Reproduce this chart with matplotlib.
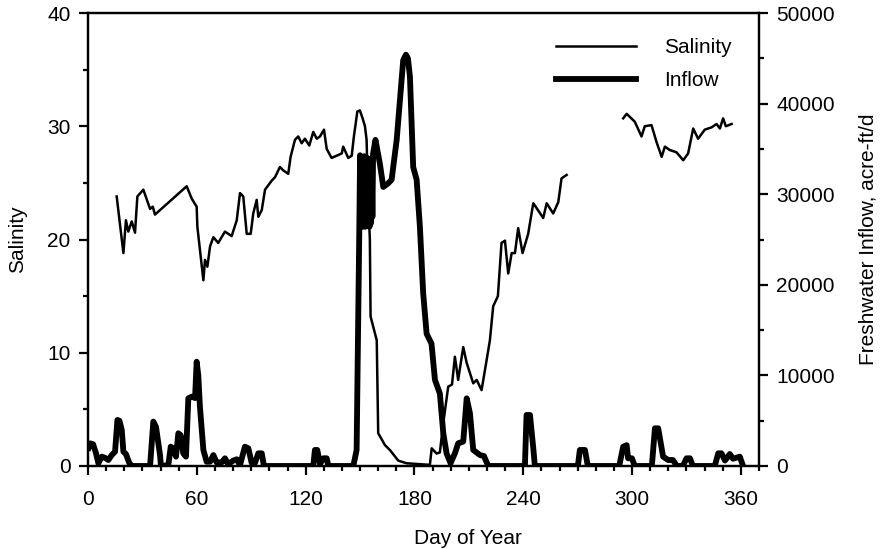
import numpy as np
import matplotlib
matplotlib.use("Agg")
import matplotlib.pyplot as plt
from matplotlib.ticker import MultipleLocator

plt.rcParams['font.family'] = ['Liberation Sans', 'DejaVu Sans']

# salinity readings (day of year, salinity); NaN marks the gap in the record
sal_day = [15.8, 19.5, 20.9, 22.2, 24.1, 25.9, 27.2, 30.5, 34.2, 35.7, 36.9,
           54.4, 57.2, 59.9, 60.3, 63.6, 64.5, 65.8, 67.3, 69.1, 71.8, 75.5,
           79.2, 82.0, 83.8, 85.6, 87.5, 89.7, 91.1, 93.0, 93.9, 95.8, 97.6,
           101.3, 103.1, 105.8, 107.7, 110.4, 111.7, 114.1, 115.9, 117.8,
           119.6, 122.0, 124.2, 126.1, 127.9, 130.1, 131.6, 134.3, 137.1,
           139.9, 140.7, 143.5, 145.4, 146.6, 148.5, 149.9, 151.4, 152.7,
           153.6, 154.4, 155.4, 155.8, 159.2, 160.0, 163.7, 166.5, 171.1,
           175.7, 188.5, 189.5, 192.2, 194.0, 195.9, 198.6, 200.7, 202.3,
           204.1, 206.9, 208.8, 212.4, 214.3, 217.0, 218.9, 221.6, 223.4,
           226.0, 228.0, 229.9, 231.7, 233.6, 235.4, 237.2, 239.6, 242.7,
           245.5, 246.4, 251.0, 252.9, 256.5, 259.3, 261.1, 263.9,
           280.0,
           295.1, 297.0, 301.5, 305.2, 307.0, 310.7, 313.5, 316.3, 318.1,
           320.8, 324.5, 328.2, 330.9, 333.7, 336.4, 340.1, 343.8, 346.6,
           348.4, 350.2, 351.7, 354.9]
salinity = [23.8, 18.8, 21.7, 20.7, 21.6, 20.6, 23.8, 24.4, 22.7, 22.9, 22.2,
            24.7, 23.6, 22.9, 21.1, 16.4, 18.2, 17.6, 19.4, 20.2, 19.7, 20.7,
            20.3, 21.7, 24.1, 23.8, 20.5, 20.5, 22.3, 23.5, 22.0, 22.6, 24.4,
            25.2, 25.5, 26.4, 26.1, 25.8, 27.3, 28.8, 29.1, 28.5,
            28.9, 28.3, 29.5, 28.9, 29.1, 29.7, 28.0, 27.2, 27.4,
            27.6, 28.2, 27.2, 27.4, 29.1, 31.3, 31.4, 30.7, 30.0,
            28.8, 24.0, 20.0, 13.2, 11.1, 2.9, 1.85, 1.4, 0.47,
            0.24, 0.1, 1.56, 1.1, 1.2, 3.8, 7.0, 7.2, 9.65,
            7.6, 10.5, 9.1, 7.3, 7.6, 6.7, 8.5, 11.1, 14.1,
            15.0, 19.7, 19.9, 17.0, 18.8, 18.8, 21.0, 18.8, 20.5,
            23.2, 23.0, 21.9, 23.2, 22.3, 23.3, 25.4, 25.7,
            np.nan,
            30.7, 31.1, 30.4, 29.1, 30.0, 30.1, 28.6, 27.3, 28.2,
            27.9, 27.7, 27.0, 27.6, 29.8, 28.9, 29.7, 29.9, 30.2,
            29.8, 30.7, 30.0, 30.2]

# freshwater inflow readings (day of year, acre-ft/d)
inflow_day = [0.3, 1.1, 2.8, 4.4, 5.7, 7.6, 9.4, 11.2, 13.1, 14.9, 16.2, 17.3,
              18.6, 19.5, 20.9, 22.8, 24.3, 34.2, 36.0, 37.5, 39.7, 40.2,
              44.3, 45.6, 47.0, 48.5, 49.8, 51.1, 52.5, 54.0, 55.3, 57.2,
              59.0, 59.9, 60.8, 61.7, 63.6, 65.4, 67.3, 69.1, 70.9, 73.7,
              75.5, 77.3, 80.1, 82.0, 83.8, 86.5, 88.4, 90.2, 92.1, 93.9,
              95.8, 97.0, 124.2, 125.1, 126.4, 127.9, 129.7, 131.6, 132.5,
              146.3, 148.1, 149.6, 150.0, 150.4, 150.8, 151.2, 151.6, 152.0,
              152.4, 152.8, 153.2, 153.6, 154.0, 154.4, 154.8, 155.2, 155.6,
              156.0, 156.4, 156.8, 157.2, 158.5, 160.9, 162.8, 165.5, 167.4,
              170.2, 172.9, 173.8, 175.3, 176.4, 177.5, 179.3, 181.2, 183.0,
              184.8, 186.7, 189.4, 191.3, 194.0, 195.9, 197.7, 199.9, 202.3,
              204.1, 206.9, 208.8, 210.6, 212.4, 216.1, 218.3, 220.7, 240.9,
              241.8, 243.7, 245.5, 246.4, 270.1, 271.2, 274.0, 275.6, 292.9,
              295.1, 297.0, 297.8, 299.9, 301.5, 310.9, 312.6, 314.4, 317.1,
              319.9, 322.5, 324.7, 328.0, 330.0, 331.9, 333.5, 345.6, 347.5,
              349.3, 351.2, 353.9, 355.7, 359.4, 361.2]
inflow = [2000, 2500, 2400, 1400, 300, 1030, 900, 660, 1210, 1580, 5080, 5000,
          3970, 1580, 1320, 300, 0, 0, 4900, 4300, 1200, 0,
          100, 2130, 1950, 1030, 3610, 3400, 1400, 1030, 7470, 7650,
          7500, 11510, 10000, 6550, 1770, 470, 470, 1210, 400, 400,
          850, 200, 600, 740, 100, 2130, 1950, 360, 360, 1400,
          1400, 0, 0, 1770, 1770, 200, 850, 850, 0,
          0, 1770, 26400, 34300, 26600, 34000, 26400, 33800, 26500,
          34200, 26400, 33600, 26600, 34000, 26500, 33800, 26400, 33900,
          26800, 34000, 27500, 34500, 36000, 33400, 30800, 31200, 31600,
          36000, 42600, 44800, 45400, 45000, 43000, 33000, 31600, 26400,
          19100, 14600, 13500, 9500, 8000, 3600, 1400, 300, 1400,
          2500, 2700, 7470, 5820, 1770, 1210, 1100, 0, 0,
          5630, 5630, 2000, 0, 0, 1770, 1770, 0, 0,
          2130, 2300, 850, 850, 0, 0, 4160, 4160, 1030,
          660, 660, 0, 0, 850, 850, 0, 0, 1400,
          1400, 600, 1320, 800, 1030, 0]

fs = 15

fig = plt.figure(figsize=(8.83, 5.49), dpi=100)
ax = fig.add_axes([0.0997, 0.1512, 0.7599, 0.8251])
ax2 = ax.twinx()

l1, = ax.plot(sal_day, salinity, color='black', lw=1.8, label='Salinity')
l2, = ax2.plot(inflow_day, inflow, color='black', lw=4.2, label='Inflow',
               solid_joinstyle='round')

ax.set_xlim(0, 370)
ax.set_ylim(0, 40)
ax2.set_ylim(0, 50000)

ax.xaxis.set_major_locator(MultipleLocator(60))
ax.xaxis.set_minor_locator(MultipleLocator(10))
ax.yaxis.set_major_locator(MultipleLocator(10))
ax.yaxis.set_minor_locator(MultipleLocator(5))
ax2.yaxis.set_major_locator(MultipleLocator(10000))
ax2.yaxis.set_minor_locator(MultipleLocator(5000))

for a in (ax, ax2):
    for s in a.spines.values():
        s.set_linewidth(1.6)
    a.tick_params(which='major', direction='out', length=6.5, width=1.6,
                  labelsize=fs, pad=6)
    a.tick_params(which='minor', direction='out', length=3.5, width=1.6)
ax.tick_params(axis='x', pad=11)

ax.set_xlabel('Day of Year', fontsize=fs)
ax.set_ylabel('Salinity', fontsize=fs)
ax2.set_ylabel('Freshwater Inflow, acre-ft/d', fontsize=fs)
ax.xaxis.set_label_coords(0.566, -0.14)
ax.yaxis.set_label_coords(-0.091, 0.5)
ax2.yaxis.set_label_coords(1.148, 0.5)

ax.legend(handles=[l1, l2], loc='upper left', frameon=False, fontsize=fs,
          bbox_to_anchor=(0.618, 0.95), bbox_transform=fig.transFigure,
          borderpad=0, handlelength=3.85, handletextpad=1.35, labelspacing=0.68)

fig.savefig('out.png', dpi=100)
